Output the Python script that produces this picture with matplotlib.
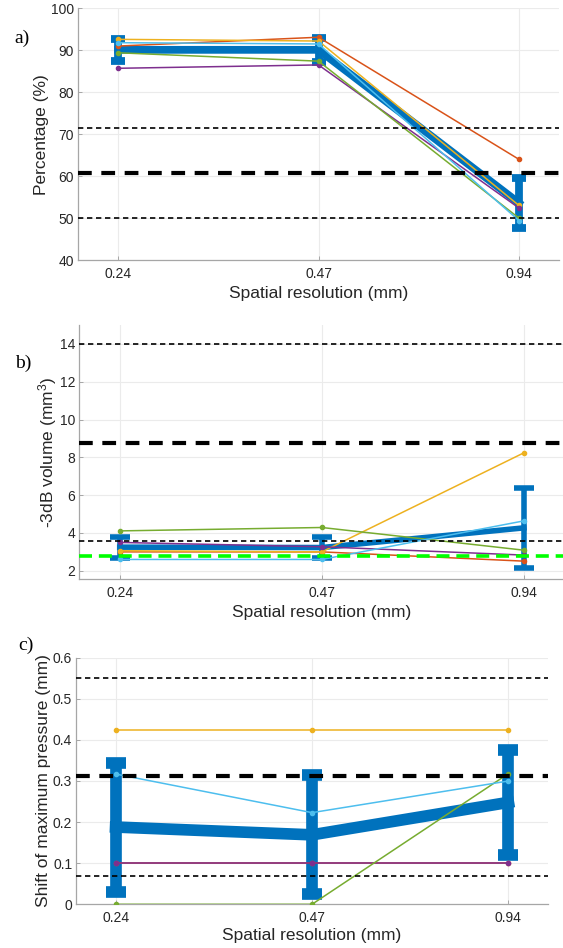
import matplotlib
matplotlib.use("Agg")
import matplotlib.pyplot as plt

# ---------------------------------------------------------------- data
x_pos = [1, 2, 3]
x_labels = ["0.24", "0.47", "0.94"]
series_names = ["orange", "yellow", "purple", "green", "lightblue"]

# a) percentage
a_orange = [91.0, 93.1, 64.0]
a_yellow = [92.6, 92.2, 53.0]
a_purple = [85.7, 86.5, 52.4]
a_green = [89.4, 87.4, 50.0]
a_lightblue = [91.8, 91.5, 49.4]
a_mean = [90.1, 90.1, 53.6]
a_err = [2.6, 2.9, 5.9]
a_ref_thin = [71.4, 49.9]
a_ref_thick = [60.8]

# b) -3dB volume
b_orange = [3.0, 3.0, 2.51]
b_yellow = [3.06, 3.0, 8.24]
b_purple = [3.5, 3.27, 2.83]
b_green = [4.11, 4.29, 3.09]
b_lightblue = [2.6, 2.6, 4.64]
b_mean = [3.25, 3.23, 4.27]
b_err = [0.55, 0.57, 2.12]
b_ref_thin = [14.0, 3.58]
b_ref_thick = [8.77]
b_ref_green = [2.8]

# c) shift of maximum pressure
c_orange = [0.1, 0.1, 0.1]
c_yellow = [0.424, 0.424, 0.424]
c_purple = [0.1, 0.1, 0.1]
c_green = [0.0, 0.0, 0.318]
c_lightblue = [0.317, 0.223, 0.30]
c_mean = [0.188, 0.169, 0.248]
c_err = [0.157, 0.145, 0.128]
c_ref_thin = [0.551, 0.069]
c_ref_thick = [0.311]

# ---------------------------------------------------------------- style
COLORS = {"orange": "#D95319", "yellow": "#EDB120", "purple": "#7E2F8E",
          "green": "#77AC30", "lightblue": "#4DBEEE"}
BLUE = "#0072BD"
AXIS_GRAY = "#A6A6A6"
TEXT = "#262626"
SANS = "Liberation Sans"

plt.rcParams["font.family"] = SANS
plt.rcParams["mathtext.fontset"] = "custom"
plt.rcParams["mathtext.rm"] = SANS
plt.rcParams["mathtext.it"] = SANS + ":italic"

W, H = 563, 948
fig = plt.figure(figsize=(W / 100, H / 100), dpi=100)
fig.patch.set_facecolor("white")


def px_axes(left, top, right, bottom):
    return fig.add_axes([left / W, 1 - bottom / H,
                         (right - left) / W, (bottom - top) / H])


def draw_panel(ax, series, mean, err, lw, cap, ylim, yticks, yticklabels,
               thin, thick, ylabel, ylab_x, xlab_y, green=None):
    ax.errorbar(x_pos, mean, yerr=err, color=BLUE, lw=lw, capsize=cap,
                capthick=lw, zorder=3)
    for name, vals in zip(series_names, series):
        ax.plot(x_pos, vals, color=COLORS[name], lw=1.1, marker="o",
                ms=3, zorder=4)
    for y in thin:
        ax.axhline(y, color="black", lw=1.2, ls=(0, (3.2, 2.2)), zorder=5)
    for y in thick:
        ax.axhline(y, color="black", lw=3.0, ls=(0, (3.3, 2.3)), zorder=5)
    if green:
        for y in green:
            ax.axhline(y, color="#00FF00", lw=2.6, ls=(0, (3.6, 1.9)),
                       zorder=5)

    ax.set_xlim(0.8, 3.2)
    ax.set_ylim(*ylim)
    ax.set_xticks(x_pos)
    ax.set_xticklabels(x_labels)
    ax.set_yticks(yticks)
    ax.set_yticklabels(yticklabels)
    ax.grid(True, color="#EBEBEB", lw=0.8, zorder=0)
    ax.set_axisbelow(True)
    for s in ["top", "right"]:
        ax.spines[s].set_visible(False)
    for s in ["left", "bottom"]:
        ax.spines[s].set_color(AXIS_GRAY)
        ax.spines[s].set_linewidth(0.9)
    ax.tick_params(direction="in", length=3, width=0.7, color=AXIS_GRAY,
                   labelsize=10, labelcolor=TEXT)
    ax.tick_params(axis="x", pad=5)
    ax.tick_params(axis="y", pad=3)

    ax.set_xlabel("Spatial resolution (mm)", fontsize=12.5, color=TEXT,
                  va="center")
    ax.xaxis.set_label_coords(0.5, xlab_y)
    ax.set_ylabel(ylabel, fontsize=12.5, color=TEXT, va="center")
    ax.yaxis.set_label_coords(ylab_x, 0.5)


ax_a = px_axes(78, 8.3, 559, 260)
draw_panel(ax_a, [a_orange, a_yellow, a_purple, a_green, a_lightblue],
           a_mean, a_err, 5.6, 4.7, (40, 100), range(40, 101, 10),
           [str(v) for v in range(40, 101, 10)], a_ref_thin, a_ref_thick,
           "Percentage (%)", -0.075, -0.135)

ax_b = px_axes(79.3, 325, 564.3, 579.3)
draw_panel(ax_b, [b_orange, b_yellow, b_purple, b_green, b_lightblue],
           b_mean, b_err, 4.0, 7.2, (1.55, 15), range(2, 15, 2),
           [str(v) for v in range(2, 15, 2)], b_ref_thin, b_ref_thick,
           "-3dB volume (mm$^3$)", -0.066, -0.1325, green=b_ref_green)

c_ticks = [0, 0.1, 0.2, 0.3, 0.4, 0.5, 0.6]
ax_c = px_axes(76.3, 657.7, 547.7, 904.3)
draw_panel(ax_c, [c_orange, c_yellow, c_purple, c_green, c_lightblue],
           c_mean, c_err, 8.4, 7.5, (0, 0.6), c_ticks,
           ["0", "0.1", "0.2", "0.3", "0.4", "0.5", "0.6"],
           c_ref_thin, c_ref_thick,
           "Shift of maximum pressure (mm)", -0.07, -0.1285)

# panel letters
for txt, (px, py) in zip(["a)", "b)", "c)"], [(22, 38), (23, 363), (26, 645)]):
    fig.text(px / W, 1 - py / H, txt, fontsize=14, family="Liberation Serif",
             ha="center", va="center", color="black")

fig.savefig("out.png", dpi=100, facecolor="white")
